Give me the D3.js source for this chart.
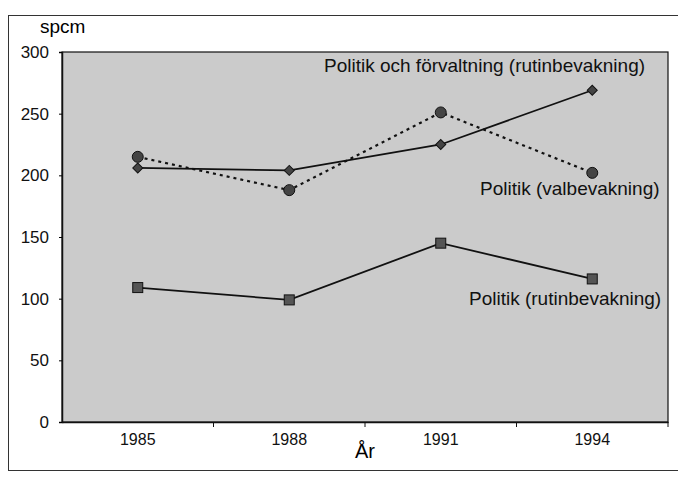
<!DOCTYPE html>
<html>
<head>
<meta charset="utf-8">
<script src="https://cdn.jsdelivr.net/npm/d3@7"></script>
<style>
  body { margin: 0; background: #fff; }
  text { font-family: "Liberation Sans", Arial, sans-serif; }
</style>
</head>
<body>
<div id="canvas"></div>
<script>
// data
const years = ["1985", "1988", "1991", "1994"];
const forvaltningRutin = [206, 204, 225, 269];
const politikVal = [215, 188, 251, 202];
const politikRutin = [109, 99, 145, 116];
const yTicks = [0, 50, 100, 150, 200, 250, 300];

const width = 678;
const height = 479;
const margin = { top: 52, left: 62, bottom: 57, right: 10 };
const iwidth = width - margin.left - margin.right;
const iheight = height - margin.top - margin.bottom;

const svg = d3.select("#canvas").append("svg")
    .attr("width", width)
    .attr("height", height);

// outer frame of the figure
svg.append("rect")
    .attr("x", 8.5).attr("y", 15.5)
    .attr("width", 680).attr("height", 455)
    .attr("fill", "none")
    .attr("stroke", "#333")
    .attr("stroke-width", 1);

const g = svg.append("g").attr("transform", `translate(${margin.left},${margin.top})`);

const x = d3.scaleBand().domain(years).range([0, iwidth]);
const y = d3.scaleLinear().domain([0, 300]).range([iheight, 0]);

// plot area background
g.append("rect")
    .attr("width", iwidth).attr("height", iheight)
    .attr("fill", "#cbcbcb")
    .attr("stroke", "#111")
    .attr("stroke-width", 1.2);

// x axis
const xAxis = g.append("g")
    .attr("transform", `translate(0,${iheight})`)
    .call(d3.axisBottom(x).tickSize(0).tickPadding(12));
xAxis.select(".domain").attr("stroke", "#111").attr("stroke-width", 1.5);
xAxis.selectAll("text")
    .attr("font-size", 16).attr("fill", "#111")
    .style("font-family", "'Liberation Sans', Arial, sans-serif");
// tick marks between the categories
g.append("g").selectAll("line")
    .data(years)
    .enter().append("line")
    .attr("x1", d => x(d) + x.bandwidth())
    .attr("x2", d => x(d) + x.bandwidth())
    .attr("y1", iheight).attr("y2", iheight + 5)
    .attr("stroke", "#111");

// y axis
const yAxis = g.append("g")
    .call(d3.axisLeft(y).tickValues(yTicks).tickSize(3).tickPadding(10));
yAxis.select(".domain").attr("stroke", "#111").attr("stroke-width", 1.5);
yAxis.selectAll("text")
    .attr("font-size", 17).attr("fill", "#111")
    .style("font-family", "'Liberation Sans', Arial, sans-serif");

svg.append("text")
    .attr("x", 40).attr("y", 33)
    .attr("font-size", 19)
    .text("spcm");

svg.append("text")
    .attr("x", 355).attr("y", 458)
    .attr("font-size", 20)
    .text("År");

const line = d3.line()
    .x((d, i) => x(years[i]) + x.bandwidth() / 2)
    .y(d => y(d));

// Politik och förvaltning (rutinbevakning)
g.append("path").datum(forvaltningRutin)
    .attr("d", line).attr("fill", "none")
    .attr("stroke", "#111").attr("stroke-width", 1.8);
g.selectAll(".diamond").data(forvaltningRutin).enter().append("path")
    .attr("class", "diamond")
    .attr("d", d3.symbol(d3.symbolSquare, 50))
    .attr("transform", (d, i) => `translate(${x(years[i]) + x.bandwidth() / 2},${y(d)}) rotate(45)`)
    .attr("fill", "#444").attr("stroke", "#111");

// Politik (valbevakning)
g.append("path").datum(politikVal)
    .attr("d", line).attr("fill", "none")
    .attr("stroke", "#111").attr("stroke-width", 2.2)
    .attr("stroke-dasharray", "3,4");
g.selectAll(".circle").data(politikVal).enter().append("circle")
    .attr("class", "circle")
    .attr("cx", (d, i) => x(years[i]) + x.bandwidth() / 2)
    .attr("cy", d => y(d))
    .attr("r", 5.5)
    .attr("fill", "#444").attr("stroke", "#111");

// Politik (rutinbevakning)
g.append("path").datum(politikRutin)
    .attr("d", line).attr("fill", "none")
    .attr("stroke", "#111").attr("stroke-width", 1.8);
g.selectAll(".square").data(politikRutin).enter().append("rect")
    .attr("class", "square")
    .attr("x", (d, i) => x(years[i]) + x.bandwidth() / 2 - 5)
    .attr("y", d => y(d) - 5)
    .attr("width", 10).attr("height", 10)
    .attr("fill", "#555").attr("stroke", "#111");

// series labels
const labels = [
    { text: "Politik och förvaltning (rutinbevakning)", x: 324, y: 72 },
    { text: "Politik (valbevakning)", x: 480, y: 195 },
    { text: "Politik (rutinbevakning)", x: 469, y: 305 }
];
svg.selectAll(".lbl").data(labels).enter().append("text")
    .attr("class", "lbl")
    .attr("x", d => d.x).attr("y", d => d.y)
    .attr("font-size", 19)
    .attr("fill", "#111")
    .text(d => d.text);
</script>
</body>
</html>
